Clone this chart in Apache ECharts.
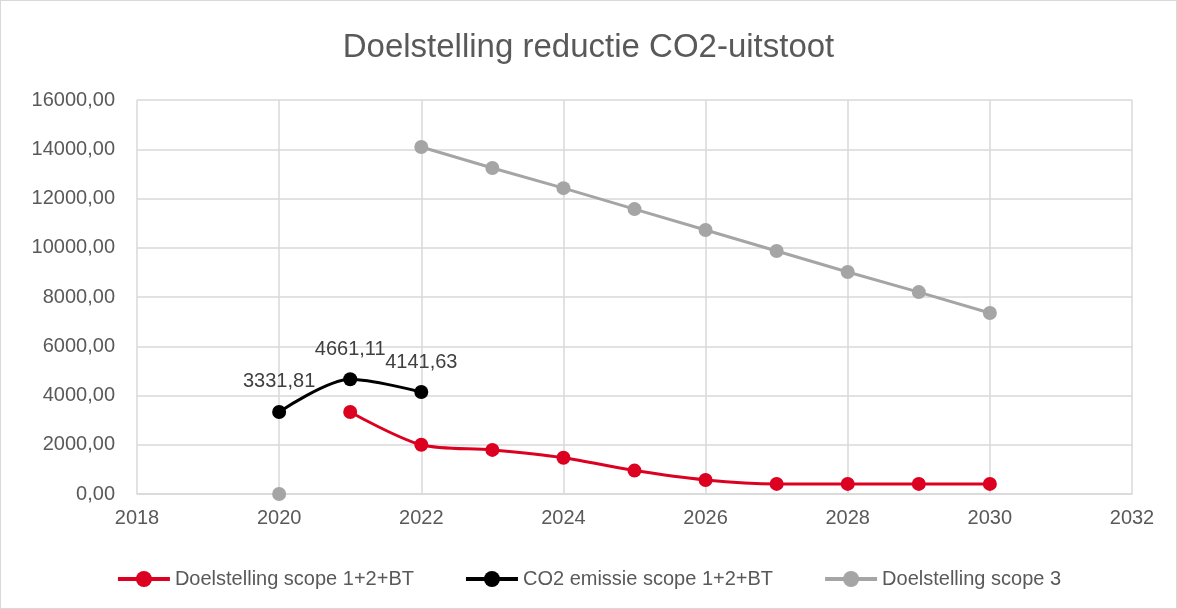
<!DOCTYPE html>
<html>
<head>
<meta charset="utf-8">
<script src="https://cdn.jsdelivr.net/npm/echarts@6/dist/echarts.min.js"></script>
<style>
  html, body { margin: 0; padding: 0; background: #fff; }
  #chart { width: 1175px; height: 607px; border: 1px solid #d9d9d9; }
</style>
</head>
<body>
<div id="chart"></div>
<script>
// jaren op de x-as
const years = [2020, 2021, 2022, 2023, 2024, 2025, 2026, 2027, 2028, 2029, 2030];
// Doelstelling scope 1+2+BT
const targetScope12 = [null, 3331.81, 2000, 1790, 1475, 950, 570, 410, 410, 410, 410];
// CO2 emissie scope 1+2+BT
const emissionScope12 = [3331.81, 4661.11, 4141.63, null, null, null, null, null, null, null, null];
// Doelstelling scope 3
const targetScope3 = [0, null, 14090, 13240, 12420, 11570, 10720, 9870, 9015, 8200, 7350];

const seriesNames = ['Doelstelling scope 1+2+BT', 'CO2 emissie scope 1+2+BT', 'Doelstelling scope 3'];
const seriesColors = ['#dc0021', '#000000', '#a5a5a5'];

const fmt = v => v.toFixed(2).replace('.', ',');
// lege waarden blijven staan zodat de lijn onderbroken wordt
const pairs = vals => years.map((y, i) => [y, vals[i] === null ? '-' : vals[i]]);

function lineSeries(idx, vals, extra) {
  return Object.assign({
    name: seriesNames[idx],
    type: 'line',
    data: pairs(vals),
    connectNulls: false,
    smooth: 0.3,
    symbol: 'circle',
    symbolSize: 14,
    lineStyle: { width: 3, color: seriesColors[idx] },
    itemStyle: { color: seriesColors[idx] },
    z: 3 - idx
  }, extra || {});
}

const chart = echarts.init(document.getElementById('chart'));
chart.setOption({
  animation: false,
  textStyle: { fontFamily: 'Liberation Sans' },
  title: {
    text: 'Doelstelling reductie CO2-uitstoot',
    left: 'center',
    top: 25,
    textStyle: { fontSize: 33, fontWeight: 'normal', color: '#595959', fontFamily: 'Liberation Sans' }
  },
  legend: {
    bottom: 14,
    left: 'center',
    itemWidth: 52,
    itemHeight: 20,
    itemGap: 50,
    lineStyle: { width: 4 },
    textStyle: { fontSize: 20, color: '#595959' },
    data: seriesNames.map(n => ({ name: n, itemStyle: { borderWidth: 0 } }))
  },
  grid: { left: 136, right: 44, top: 99, bottom: 114, containLabel: false },
  xAxis: {
    type: 'value',
    min: 2018,
    max: 2032,
    interval: 2,
    axisLine: { show: true, lineStyle: { color: '#d9d9d9', width: 1.5 } },
    axisTick: { show: false },
    splitLine: { show: true, lineStyle: { color: '#d9d9d9', width: 1.5 } },
    axisLabel: { fontSize: 20, color: '#595959', margin: 14, formatter: v => String(v) }
  },
  yAxis: {
    type: 'value',
    min: 0,
    max: 16000,
    interval: 2000,
    axisLine: { show: false },
    axisTick: { show: false },
    splitLine: { lineStyle: { color: '#d9d9d9', width: 1.5 } },
    axisLabel: { fontSize: 20, color: '#595959', margin: 22, formatter: v => fmt(v) }
  },
  series: [
    lineSeries(0, targetScope12),
    lineSeries(1, emissionScope12, {
      label: {
        show: true,
        position: 'top',
        distance: 13,
        fontSize: 20,
        color: '#404040',
        formatter: p => fmt(p.value[1])
      }
    }),
    lineSeries(2, targetScope3, { smooth: false })
  ]
});
window.addEventListener('resize', () => chart.resize());
</script>
</body>
</html>
